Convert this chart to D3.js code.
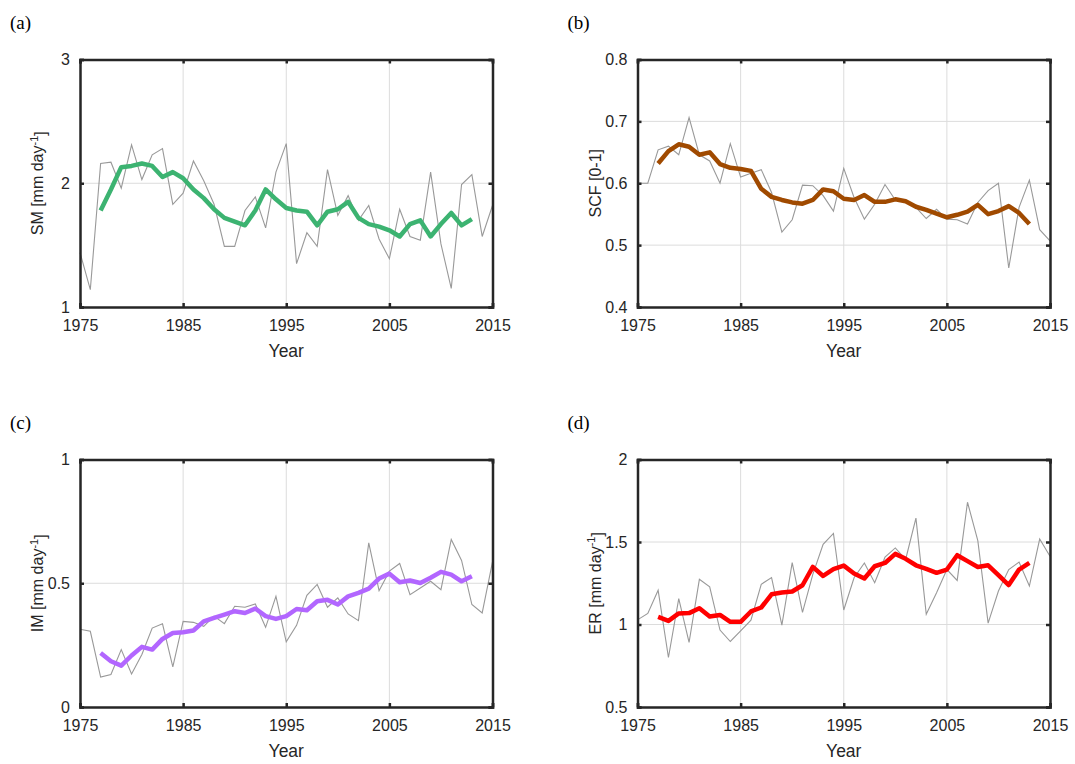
<!DOCTYPE html>
<html lang="en">
<head>
  <meta charset="UTF-8" />
  <title>Four panel time series</title>
  <script src="https://d3js.org/d3.v7.min.js"></script>
  <style>
    body { margin: 0; padding: 0; background: #fff; }
    svg text { font-family: "Liberation Sans", Arial, sans-serif; fill: #262626; }
    .tag { font-family: "Liberation Serif", "Times New Roman", serif; font-size: 19px; fill: #000; }
  </style>
</head>
<body>
<div id="chart"></div>
<script>
  // Years
  const years = d3.range(1975, 2016);
  const smoothYears = d3.range(1977, 2014);

  // (a) SM
  const smAnnual = [1.44, 1.14, 2.16, 2.17, 1.96, 2.31, 2.03, 2.23, 2.28, 1.83, 1.92, 2.18, 2.02, 1.83, 1.49, 1.49, 1.78, 1.89, 1.64, 2.09,
    2.32, 1.35, 1.60, 1.49, 2.11, 1.74, 1.90, 1.70, 1.82, 1.55, 1.39, 1.79, 1.57, 1.54, 2.09, 1.51, 1.15, 1.99, 2.07, 1.57, 1.82];
  const smSmooth = [1.78, 1.95, 2.13, 2.14, 2.16, 2.14, 2.05, 2.09, 2.04, 1.95, 1.88, 1.79, 1.72, 1.69, 1.66, 1.78, 1.95, 1.87, 1.80,
    1.78, 1.77, 1.66, 1.77, 1.79, 1.85, 1.72, 1.67, 1.65, 1.62, 1.57, 1.67, 1.70, 1.57, 1.67, 1.76, 1.66, 1.71];

  // (b) SCF
  const scfAnnual = [0.600, 0.600, 0.654, 0.660, 0.646, 0.706, 0.646, 0.636, 0.600, 0.664, 0.610, 0.616, 0.622, 0.585, 0.521, 0.541, 0.597,
    0.596, 0.580, 0.555, 0.624, 0.577, 0.542, 0.566, 0.598, 0.573, 0.573, 0.561, 0.543, 0.558, 0.542, 0.541, 0.534, 0.569, 0.588, 0.600,
    0.463, 0.561, 0.605, 0.525, 0.507];
  const scfSmooth = [0.632, 0.652, 0.663, 0.659, 0.646, 0.650, 0.631, 0.625, 0.623, 0.620, 0.591, 0.578, 0.573, 0.569, 0.567, 0.573, 0.590,
    0.587, 0.575, 0.573, 0.581, 0.570, 0.570, 0.574, 0.571, 0.562, 0.557, 0.551, 0.545, 0.549, 0.554, 0.565, 0.550, 0.555, 0.563, 0.552, 0.534];

  // (c) IM
  const imAnnual = [0.314, 0.306, 0.121, 0.131, 0.232, 0.133, 0.212, 0.319, 0.336, 0.162, 0.346, 0.342, 0.326, 0.367, 0.337, 0.407, 0.403,
    0.416, 0.322, 0.447, 0.263, 0.330, 0.451, 0.495, 0.403, 0.441, 0.376, 0.349, 0.663, 0.470, 0.549, 0.580, 0.454, 0.481, 0.508, 0.474,
    0.677, 0.592, 0.414, 0.380, 0.586];
  const imSmooth = [0.218, 0.185, 0.167, 0.208, 0.243, 0.232, 0.275, 0.299, 0.302, 0.309, 0.346, 0.360, 0.373, 0.387, 0.380, 0.398, 0.367,
    0.356, 0.367, 0.396, 0.391, 0.427, 0.433, 0.414, 0.447, 0.461, 0.478, 0.519, 0.539, 0.504, 0.511, 0.501, 0.522, 0.546, 0.535, 0.508, 0.528];

  // (d) ER
  const erAnnual = [1.028, 1.067, 1.208, 0.800, 1.157, 0.891, 1.274, 1.228, 0.966, 0.897, 0.962, 1.026, 1.244, 1.284, 0.996, 1.375, 1.073,
    1.304, 1.486, 1.552, 1.088, 1.283, 1.373, 1.253, 1.408, 1.464, 1.394, 1.645, 1.062, 1.193, 1.333, 1.267, 1.741, 1.508, 1.008, 1.203,
    1.333, 1.378, 1.233, 1.518, 1.414];
  const erSmooth = [1.046, 1.022, 1.067, 1.069, 1.099, 1.048, 1.058, 1.016, 1.016, 1.079, 1.103, 1.183, 1.194, 1.200, 1.238, 1.349, 1.294,
    1.335, 1.357, 1.309, 1.279, 1.353, 1.373, 1.428, 1.398, 1.359, 1.337, 1.313, 1.333, 1.420, 1.384, 1.349, 1.359, 1.299, 1.239, 1.333, 1.373];

  const xTicks = [1975, 1985, 1995, 2005, 2015];

  const panels = [
    { tag: "(a)", label: "SM [mm day", sup: "-1", unit: "]", annual: smAnnual, smooth: smSmooth, domain: [1, 3], ticks: [1, 2, 3], color: "#3cb371", left: 80, top: 59.5 },
    { tag: "(b)", label: "SCF [0-1]", annual: scfAnnual, smooth: scfSmooth, domain: [0.4, 0.8], ticks: [0.4, 0.5, 0.6, 0.7, 0.8], color: "#a04a00", left: 637.5, top: 59.5 },
    { tag: "(c)", label: "IM [mm day", sup: "-1", unit: "]", annual: imAnnual, smooth: imSmooth, domain: [0, 1], ticks: [0, 0.5, 1], color: "#b266ff", left: 80, top: 459.5 },
    { tag: "(d)", label: "ER [mm day", sup: "-1", unit: "]", annual: erAnnual, smooth: erSmooth, domain: [0.5, 2], ticks: [0.5, 1, 1.5, 2], color: "#ff0000", left: 637.5, top: 459.5 }
  ];

  const pw = 412.5, ph = 247.5;

  const svg = d3.select("#chart").append("svg")
    .attr("width", 1075)
    .attr("height", 764);

  panels.forEach(p => {
    const g = svg.append("g").attr("transform", `translate(${p.left},${p.top})`);

    const x = d3.scaleLinear().domain([1975, 2015]).range([0, pw]);
    const y = d3.scaleLinear().domain(p.domain).range([ph, 0]);

    // grid
    g.selectAll(".vg").data(xTicks.slice(1, -1)).enter().append("line")
      .attr("x1", d => x(d)).attr("x2", d => x(d))
      .attr("y1", 0).attr("y2", ph)
      .attr("stroke", "#dcdcdc").attr("stroke-width", 1);
    g.selectAll(".hg").data(p.ticks.slice(1, -1)).enter().append("line")
      .attr("x1", 0).attr("x2", pw)
      .attr("y1", d => y(d)).attr("y2", d => y(d))
      .attr("stroke", "#dcdcdc").attr("stroke-width", 1);

    // annual line
    g.append("path")
      .datum(p.annual)
      .attr("fill", "none")
      .attr("stroke", "#999999")
      .attr("stroke-width", 1.1)
      .attr("d", d3.line().x((d, i) => x(years[i])).y(d => y(d)));

    // smoothed line
    g.append("path")
      .datum(p.smooth)
      .attr("fill", "none")
      .attr("stroke", p.color)
      .attr("stroke-width", 4.5)
      .attr("stroke-linejoin", "round")
      .attr("d", d3.line().x((d, i) => x(smoothYears[i])).y(d => y(d)));

    // axes (ticks inward, mirrored)
    const fmtY = d => d3.format("~g")(d);
    const bottom = g.append("g").attr("transform", `translate(0,${ph})`)
      .call(d3.axisBottom(x).tickValues(xTicks).tickFormat(d3.format("d")).tickSize(-4).tickPadding(10));
    const top = g.append("g")
      .call(d3.axisTop(x).tickValues(xTicks).tickSize(-4).tickFormat(""));
    const left = g.append("g")
      .call(d3.axisLeft(y).tickValues(p.ticks).tickFormat(fmtY).tickSize(-4).tickPadding(10));
    const right = g.append("g").attr("transform", `translate(${pw},0)`)
      .call(d3.axisRight(y).tickValues(p.ticks).tickSize(-4).tickFormat(""));

    [bottom, top, left, right].forEach(a => {
      a.select(".domain").attr("stroke", "#262626").attr("stroke-width", 2.5);
      a.selectAll(".tick line").attr("stroke", "#262626").attr("stroke-width", 2.5);
      a.selectAll("text").style("font-size", "16px").attr("fill", "#262626");
    });
    bottom.selectAll("text").attr("dy", "0.85em");

    // axis titles
    g.append("text")
      .attr("x", pw / 2).attr("y", ph + 50)
      .attr("text-anchor", "middle")
      .style("font-size", "17.5px")
      .text("Year");

    const yl = g.append("text")
      .attr("transform", `translate(-37,${ph / 2}) rotate(-90)`)
      .attr("text-anchor", "middle")
      .style("font-size", "16px");
    yl.append("tspan").text(p.label);
    if (p.sup) {
      yl.append("tspan").attr("dy", "-0.5em").style("font-size", "11px").text(p.sup);
      yl.append("tspan").attr("dy", "0.5em").text(p.unit);
    }

    // panel tag
    svg.append("text")
      .attr("class", "tag")
      .attr("x", p.left - 70)
      .attr("y", p.top - 31)
      .text(p.tag);
  });
</script>
</body>
</html>
